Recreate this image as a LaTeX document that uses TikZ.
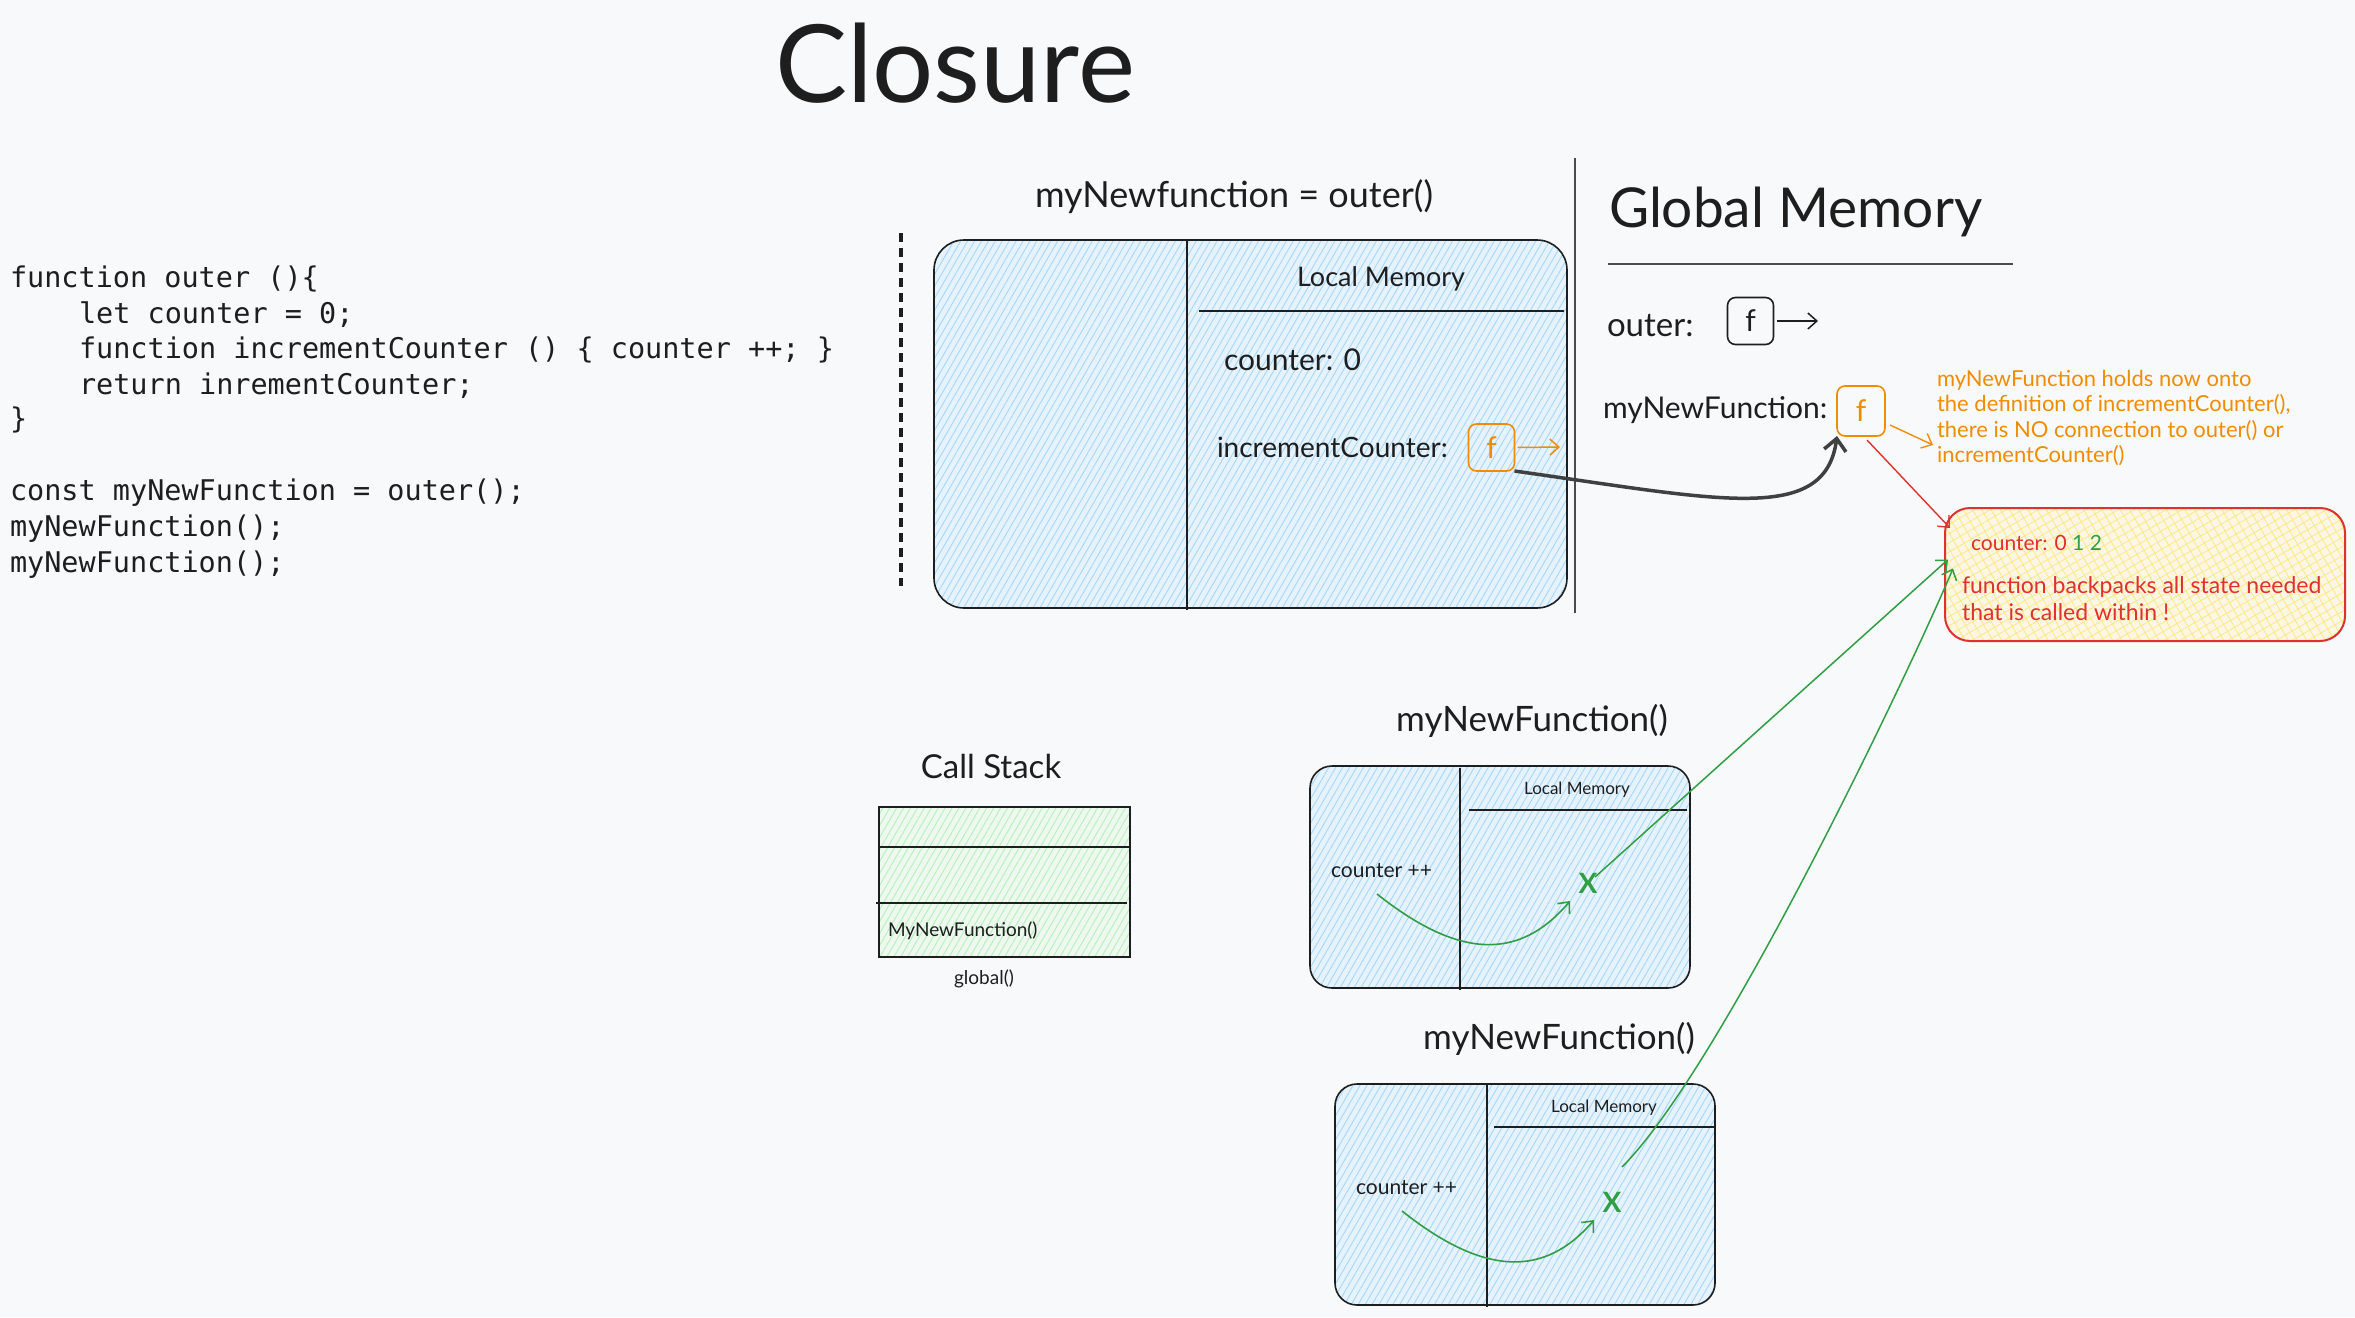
\documentclass[tikz,border=0pt]{standalone}
\usepackage{fontspec}
\setmainfont{Lato}
\setmonofont{DejaVu Sans Mono}
\usetikzlibrary{patterns.meta,arrows.meta,calc}
\definecolor{bg}{HTML}{F8F9FA}
\definecolor{ink}{HTML}{1E1E1E}
\definecolor{bluehatch}{HTML}{A5D8FF}
\definecolor{bluefill}{HTML}{E6F2FC}
\definecolor{greenhatch}{HTML}{B2F2BB}
\definecolor{greenfill}{HTML}{EEF8EF}
\definecolor{yellowhatch}{HTML}{FFE580}
\definecolor{yellowfill}{HTML}{FCF7E2}
\definecolor{orng}{HTML}{F08C00}
\definecolor{rd}{HTML}{E03131}
\definecolor{grn}{HTML}{2F9E44}
\newcommand{\fs}[1]{\fontsize{#1}{#1}\selectfont}
\begin{document}
\begin{tikzpicture}[x=1pt,y=-1pt,
  every node/.style={inner sep=0pt, outer sep=0pt, text=ink},
  code/.style={font=\ttfamily\fs{28.5}, anchor=base west},
  bluebox/.style={draw=ink, line width=1.6pt, preaction={fill=bluefill},
    pattern={Lines[angle=60,distance=6pt,line width=0.9pt]}, pattern color=bluehatch},
  greenbox/.style={draw=ink, line width=1.6pt, preaction={fill=greenfill},
    pattern={Lines[angle=60,distance=6pt,line width=0.9pt]}, pattern color=greenhatch},
  yellowbox/.style={draw=rd, line width=2pt, rounded corners=25pt, preaction={fill=yellowfill},
    pattern={Hatch[angle=30,distance=8pt,line width=0.7pt]}, pattern color=yellowhatch},
  fbox/.style={line width=1.6pt, rounded corners=8pt, minimum width=46pt, minimum height=47pt, font=\fs{30}},
  arr/.style={-{Straight Barb[length=9pt,width=16pt]}},
  plain/.style={draw=ink, line width=1.6pt}
]
\fill[bg] (0,0) rectangle (2355,1317);
\useasboundingbox (0,0) rectangle (2355,1317);

% title
\node[font=\fs{108}, anchor=base] (title) at (955,102) {Closure};

% code
\node[code] (c1) at (10,287) {function outer ()\{};
\node[code] (c2) at (79,323) {let counter = 0;};
\node[code] (c3) at (79,358) {function incrementCounter () \{ counter ++; \}};
\node[code] (c4) at (79,394) {return inrementCounter;};
\node[code] (c5) at (10,428) {\}};
\node[code] (c6) at (10,500) {const myNewFunction = outer();};
\node[code] (c7) at (10,536) {myNewFunction();};
\node[code] (c8) at (10,572) {myNewFunction();};

% dashed separator
\draw[ink, line width=3.5pt, dash pattern=on 9pt off 6pt] (901,233) -- (901,586);

% main frame
\node[font=\fs{36}] (ttl0) at (1234,197) {myNewfunction = outer()};
\node[bluebox, rounded corners=30pt, minimum width=633pt, minimum height=368pt] (frame) at (1250.5,424) {};
\draw[plain] (1187,241) -- (1187,610);
\node[font=\fs{27}] (lm0) at (1381,279) {Local Memory};
\draw[plain, line width=2pt] (1199,311) -- (1564,311);
\node[font=\fs{30}, anchor=west] (cnt0) at (1224,360) {counter: 0};
\node[font=\fs{28}, anchor=west] (icl) at (1217,447) {incrementCounter:};
\node[fbox, draw=orng, text=orng] (fic) at (1491.5,447.5) {f};
\coordinate (ficend) at (1560,447);
\draw[orng, line width=1.5pt, arr] ($(fic.east)+(3,0)$) -- (ficend);

% global memory
\draw[ink!80, line width=1.6pt] (1575,158) -- (1575,613);
\node[font=\fs{55}, anchor=west] (gm) at (1609,212) {Global Memory};
\draw[ink!80, line width=2pt] (1608,264) -- (2013,264);
\node[font=\fs{33}, anchor=west] (outerl) at (1607,326) {outer:};
\node[fbox, draw=ink] (fout) at (1750.5,321) {f};
\coordinate (foutend) at (1818,321);
\draw[ink, line width=1.5pt, arr] ($(fout.east)+(3,0)$) -- (foutend);
\node[font=\fs{30}, anchor=west] (mnfl) at (1603,410) {myNewFunction:};
\node[fbox, draw=orng, text=orng, minimum width=48pt, minimum height=50pt] (fmy) at (1861,411) {f};

\draw[ink!85, line width=3.5pt, -{Straight Barb[length=12pt,width=22pt]}]
  (fic.south east) .. controls (1720,500) and (1825,525) .. (fmy.south west);

\node[anchor=north west, align=left, text=orng, font=\fontsize{22}{25.5}\selectfont] (note) at (1937,370)
  {myNewFunction holds now onto\\the definition of incrementCounter(),\\there is NO connection to outer() or\\incrementCounter()};
\draw[orng, line width=1.4pt, arr] ($(fmy.east)+(5,14)$) -- ($(note.north west)+(-4,75)$);

% backpack
\node[yellowbox, minimum width=400pt, minimum height=133pt] (backpack) at (2145,574.5) {};
\draw[rd, line width=1.4pt, arr] ($(fmy.south)+(6,4)$) -- ($(backpack.north west)+(5,20)$);
\node[anchor=west, text=rd, font=\fs{21}] (cnt) at (1971,543) {counter: 0 {\color{grn}1 2}};
\node[anchor=west, text=rd, font=\fs{23}] (bp1) at (1962,587) {function backpacks all state needed};
\node[anchor=west, text=rd, font=\fs{23}] (bp2) at (1962,612) {that is called within !};

% call stack
\node[font=\fs{33}] (csl) at (991,766) {Call Stack};
\node[greenbox, minimum width=251pt, minimum height=150pt] (stack) at (1004.5,882) {};
\draw[plain, line width=1.4pt] (879,847) -- (1130,847);
\draw[plain, line width=1.4pt] (876,903) -- (1127,903);
\node[anchor=west, font=\fs{19}] (mnf) at (888,931) {MyNewFunction()};
\node[font=\fs{19}] (glob) at (984,979) {global()};

% call 1
\node[font=\fs{35}] (t1) at (1532,721) {myNewFunction()};
\node[bluebox, rounded corners=22pt, minimum width=380pt, minimum height=222pt] (b1) at (1500,877) {};
\draw[plain] (1460,768) -- (1460,990);
\node[font=\fs{17}] (lm1) at (1577,790) {Local Memory};
\draw[plain] (1469,810) -- (1687,810);
\node[anchor=west, font=\fs{21}] (cpp1) at (1331,871) {counter ++};
\node[text=grn, font=\bfseries\fs{28}] (x1) at (1588,883) {X};
\draw[grn, line width=1.6pt, arr] ($(cpp1.west)+(46,23)$) .. controls (1460,960) and (1520,960) .. ($(x1.center)+(-18,18)$);
\draw[grn, line width=1.5pt, arr] ($(x1.center)+(7,-6)$) -- ($(backpack.west)+(3,-15)$);

% call 2
\node[font=\fs{35}] (t2) at (1559,1039) {myNewFunction()};
\node[bluebox, rounded corners=22pt, minimum width=380pt, minimum height=221pt] (b2) at (1525,1194.5) {};
\draw[plain] (1487,1084) -- (1487,1307);
\node[font=\fs{17}] (lm2) at (1604,1108) {Local Memory};
\draw[plain] (1494,1127) -- (1714,1127);
\node[anchor=west, font=\fs{21}] (cpp2) at (1356,1188) {counter ++};
\node[text=grn, font=\bfseries\fs{28}] (x2) at (1612,1202) {X};
\draw[grn, line width=1.6pt, arr] ($(cpp2.west)+(46,23)$) .. controls (1485,1277) and (1545,1277) .. ($(x2.center)+(-18,18)$);
\draw[grn, line width=1.5pt, arr] ($(x2.center)+(10,-35)$) .. controls (1722,1067) and (1912,666) .. ($(backpack.west)+(8,-6)$);
\end{tikzpicture}
\end{document}
